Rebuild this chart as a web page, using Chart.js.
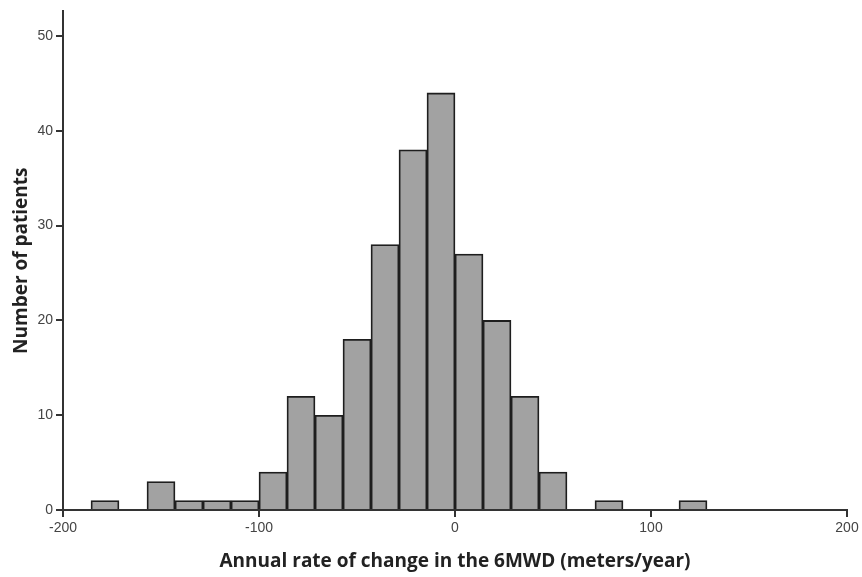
<!DOCTYPE html>
<html>
<head>
<meta charset="utf-8">
<script src="https://cdn.jsdelivr.net/npm/chart.js@4/dist/chart.umd.min.js"></script>
<style>
  html, body { margin: 0; padding: 0; background: #fff; }
  #wrap { width: 862px; height: 577px; }
</style>
</head>
<body>
<div id="wrap"><canvas id="histChart"></canvas></div>
<script>
// ============================
// DATA
// ============================

// bins of width 100/7 starting at -200
const binStart = -200;
const binWidth = 100 / 7;

const counts = [0, 1, 0, 3, 1, 1, 1, 4, 12, 10, 18, 28, 38, 44, 27, 20, 12, 4, 0, 1, 0, 0, 1, 0, 0, 0, 0, 0];

const xTicks = [-200, -100, 0, 100, 200];
const yTicks = [0, 10, 20, 30, 40, 50];

const points = counts.map((c, i) => ({ x: binStart + binWidth * (i + 0.5), y: c }));

// ============================
// HISTOGRAM
// ============================

const ctx = document.getElementById('histChart');

new Chart(ctx, {

    type: 'bar',

    data: {
        datasets: [{
            label: 'Patients',
            data: points,
            backgroundColor: '#a2a2a2',
            borderColor: '#1e1e1e',
            borderWidth: 1.8,
            borderSkipped: 'start',
            barPercentage: 1,
            categoryPercentage: 1
        }]
    },

    options: {
        responsive: true,
        maintainAspectRatio: false,
        animation: false,
        layout: { padding: { top: 10, right: 15, left: 0, bottom: 0 } },
        plugins: {
            legend: { display: false },
            tooltip: { enabled: false }
        },
        scales: {
            x: {
                type: 'linear',
                offset: false,
                min: -200,
                max: 200,
                afterBuildTicks: s => { s.ticks = xTicks.map(v => ({ value: v })); },
                afterFit: s => { s.height = 67; },
                border: { display: true, color: '#333', width: 2 },
                grid: { offset: false, drawOnChartArea: false, drawTicks: true, tickLength: 7, color: '#333', lineWidth: 2 },
                ticks: { color: '#444', font: { family: 'Liberation Sans', size: 14 }, padding: 3, maxRotation: 0 },
                title: {
                    display: true,
                    text: 'Annual rate of change in the 6MWD (meters/year)',
                    color: '#222',
                    font: { family: 'Open Sans', size: 19, weight: 'bold' },
                    padding: { top: 8 }
                }
            },
            y: {
                min: 0,
                max: 52.6,
                afterBuildTicks: s => { s.ticks = yTicks.map(v => ({ value: v })); },
                afterFit: s => { s.width = 63; },
                border: { display: true, color: '#333', width: 2 },
                grid: { drawOnChartArea: false, drawTicks: true, tickLength: 7, color: '#333', lineWidth: 2 },
                ticks: { color: '#444', font: { family: 'Liberation Sans', size: 14 }, padding: 3 },
                title: {
                    display: true,
                    text: 'Number of patients',
                    color: '#222',
                    font: { family: 'Open Sans', size: 19, weight: 'bold' },
                    padding: { bottom: 0, top: 10 }
                }
            }
        }
    }

});
</script>
</body>
</html>
